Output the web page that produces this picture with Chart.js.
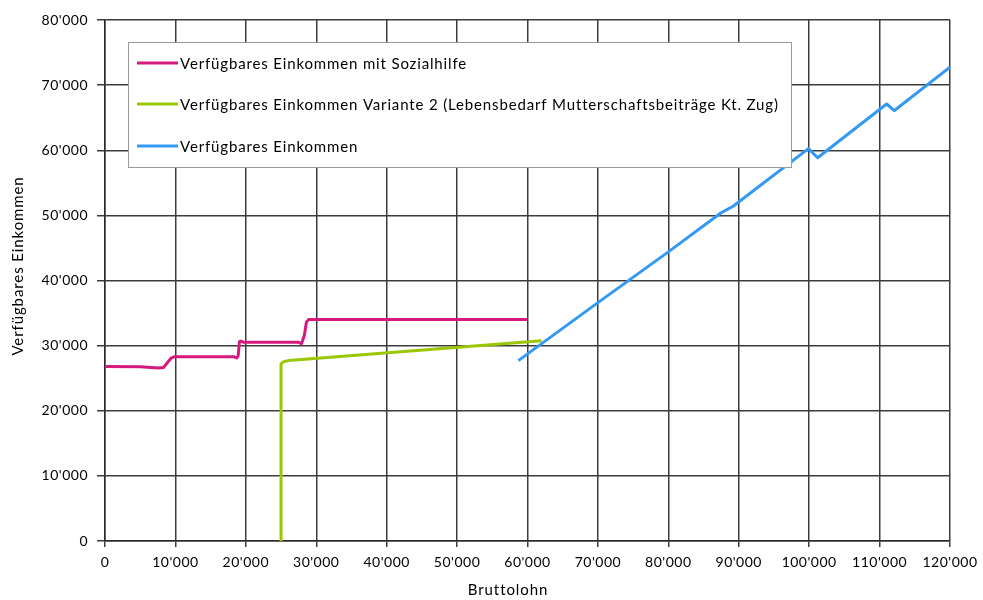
<!DOCTYPE html>
<html>
<head>
<meta charset="utf-8">
<script src="https://cdn.jsdelivr.net/npm/chart.js@4/dist/chart.umd.min.js"></script>
<style>
  html, body { margin: 0; padding: 0; background: #fff; }
  #wrap { width: 983px; height: 600px; position: relative; }
</style>
</head>
<body>
<div id="wrap"><canvas id="c" width="983" height="600"></canvas></div>
<script>
// Bruttolohn (x) und verfügbares Einkommen (y) je Variante
const sozialhilfeX = [0, 5000, 7600, 8300, 8800, 9400, 9900, 18300, 18700, 18900, 19100, 19300, 19700, 27500, 27900, 28300, 28600, 28900, 60000];
const sozialhilfeY = [26800, 26750, 26550, 26650, 27300, 28100, 28300, 28300, 28100, 28400, 30600, 30700, 30500, 30500, 30300, 31500, 33600, 34000, 34000];

const variante2X = [25000, 25000, 25300, 26000, 27000, 62000];
const variante2Y = [0, 27200, 27500, 27700, 27800, 30750];

const einkommenX = [58700, 70000, 80000, 87500, 88200, 89200, 99900, 101200, 111000, 112100, 120000];
const einkommenY = [27700, 36600, 44400, 50400, 50800, 51400, 60250, 58850, 67100, 66100, 72750];

const seriesLabels = [
  'Verfügbares Einkommen mit Sozialhilfe',
  'Verfügbares Einkommen Variante 2 (Lebensbedarf Mutterschaftsbeiträge Kt. Zug)',
  'Verfügbares Einkommen'
];
const seriesColors = ['#d6197c', '#99c700', '#3399f3'];

const xTitle = 'Bruttolohn';
const yTitle = 'Verfügbares Einkommen';

const FONT = 'Lato, "Open Sans", sans-serif';

function pts(xs, ys) { return xs.map((x, i) => ({ x: x, y: ys[i] })); }

function fmt(v) {
  const s = String(Math.round(v));
  return s.replace(/\B(?=(\d{3})+(?!\d))/g, "'");
}

// etwas gesperrte Schrift für die Achsenbeschriftung
const spacing = {
  id: 'spacing',
  beforeDraw(chart) { chart.ctx.letterSpacing = '0.5px'; }
};

// Achsentitel
const axisTitles = {
  id: 'axisTitles',
  afterDraw(chart) {
    const ctx = chart.ctx;
    ctx.save();
    ctx.letterSpacing = '0.9px';
    ctx.font = '15px ' + FONT;
    ctx.fillStyle = '#000';
    ctx.textAlign = 'center';
    ctx.textBaseline = 'middle';
    ctx.fillText(xTitle, 508, 590);
    ctx.translate(18, 266);
    ctx.rotate(-Math.PI / 2);
    ctx.fillText(yTitle, 0, 0);
    ctx.restore();
  }
};

// Legende als Kasten innerhalb der Zeichenfläche
const boxLegend = {
  id: 'boxLegend',
  afterDatasetsDraw(chart) {
    const ctx = chart.ctx;
    const left = 128.5, top = 42.5, right = 791.5, bottom = 167.5;
    ctx.save();
    ctx.fillStyle = '#ffffff';
    ctx.fillRect(left, top, right - left, bottom - top);
    ctx.strokeStyle = '#9a9a9a';
    ctx.lineWidth = 1;
    ctx.strokeRect(left, top, right - left, bottom - top);
    ctx.letterSpacing = '0.85px';
    ctx.font = '15px ' + FONT;
    ctx.textBaseline = 'middle';
    ctx.fillStyle = '#000';
    const rows = [63, 104, 146];
    chart.data.datasets.forEach((ds, i) => {
      const y = rows[i];
      ctx.strokeStyle = ds.borderColor;
      ctx.lineWidth = 3;
      ctx.lineCap = 'butt';
      ctx.beginPath();
      ctx.moveTo(137, y);
      ctx.lineTo(178, y);
      ctx.stroke();
      ctx.fillText(ds.label, 180, y + 1);
    });
    ctx.restore();
  }
};

new Chart(document.getElementById('c'), {
  type: 'line',
  data: {
    datasets: [
      { label: seriesLabels[0], data: pts(sozialhilfeX, sozialhilfeY), borderColor: seriesColors[0] },
      { label: seriesLabels[1], data: pts(variante2X, variante2Y), borderColor: seriesColors[1] },
      { label: seriesLabels[2], data: pts(einkommenX, einkommenY), borderColor: seriesColors[2] }
    ].map(d => Object.assign(d, {
      borderWidth: 3, pointRadius: 0, tension: 0, fill: false,
      borderJoinStyle: 'round', borderCapStyle: 'butt'
    }))
  },
  options: {
    responsive: false,
    animation: false,
    layout: { padding: { top: 20, right: 33, left: 0, bottom: 0 } },
    plugins: { legend: { display: false }, tooltip: { enabled: false } },
    scales: {
      x: {
        type: 'linear', min: 0, max: 120000,
        ticks: { stepSize: 10000, color: '#000', font: { family: FONT, size: 14 }, padding: 7, maxRotation: 0, callback: v => fmt(v) },
        grid: { color: '#3c3c3c', lineWidth: 1.5, tickLength: 6, drawTicks: true },
        border: { color: '#2a2a2a', width: 1.5 },
        title: { display: false },
        afterFit: s => { s.height = 59; }
      },
      y: {
        min: 0, max: 80000,
        ticks: { stepSize: 10000, color: '#000', font: { family: FONT, size: 14 }, padding: 9, callback: v => fmt(v) },
        grid: { color: '#3c3c3c', lineWidth: 1.5, tickLength: 8, drawTicks: true },
        border: { color: '#2a2a2a', width: 1.5 },
        title: { display: false },
        afterFit: s => { s.width = 105; }
      }
    }
  },
  plugins: [spacing, boxLegend, axisTitles]
});
</script>
</body>
</html>
